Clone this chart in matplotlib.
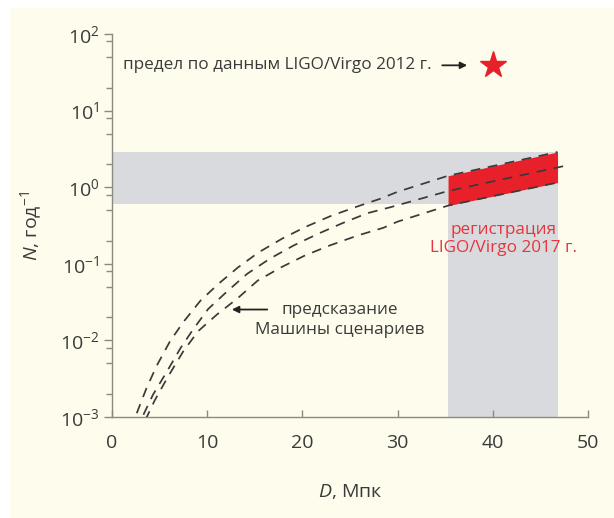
import matplotlib
matplotlib.use("Agg")
import matplotlib.pyplot as plt
from matplotlib.patches import Rectangle
from matplotlib.ticker import FixedLocator, NullFormatter

plt.rcParams['font.family'] = ['Open Sans', 'DejaVu Sans']
plt.rcParams['mathtext.fontset'] = 'custom'
plt.rcParams['mathtext.rm'] = 'Open Sans'
plt.rcParams['mathtext.it'] = 'Open Sans:italic'
plt.rcParams['lines.scale_dashes'] = False

# ---- data ----
D_upper = [2.6, 3.6, 4.7, 6.1, 7.5, 9.3, 11.2, 13.2, 15.4, 17.9, 20.3, 22.9, 25.8, 28.2, 30.0, 35.3, 46.8]
N_upper = [0.00112, 0.00234, 0.00468, 0.00977, 0.0174, 0.0331, 0.055, 0.089, 0.141, 0.214,
           0.302, 0.417, 0.562, 0.708, 0.871, 1.41, 2.88]

D_middle = [3.3, 4.3, 5.75, 7.2, 8.5, 10.1, 12.1, 14.2, 16.6, 19.1, 21.6, 24.2, 26.8, 29.3, 35.3, 48.0]
N_middle = [0.00107, 0.00195, 0.00389, 0.00794, 0.0138, 0.0257, 0.0437, 0.0741, 0.117, 0.174,
            0.245, 0.339, 0.457, 0.550, 0.891, 1.95]

D_lower = [3.5, 4.5, 5.9, 7.5, 9.05, 11.05, 13.2, 15.3, 17.7, 20.3, 22.9, 25.8, 28.5, 30.0, 35.3, 46.8]
N_lower = [0.000912, 0.00166, 0.00339, 0.00724, 0.0132, 0.0219, 0.0355, 0.0603, 0.0891, 0.129,
           0.174, 0.234, 0.295, 0.355, 0.575, 1.15]

red_D = [35.3, 46.8]
red_low = [0.575, 1.15]
red_high = [1.41, 2.88]

band_D = [0, 46.8]
band_N = [0.6, 2.9]
column_D = [35.3, 46.8]
column_N = [1e-3, 2.9]

star_D = 40
star_N = 39

x_ticks = [0, 10, 20, 30, 40, 50]
y_ticks = [1e-3, 1e-2, 1e-1, 1e0, 1e1, 1e2]
y_ticklabels = [r'$\mathregular{10^{-3}}$', r'$\mathregular{10^{-2}}$', r'$\mathregular{10^{-1}}$',
                r'$\mathregular{10^{0}}$', r'$\mathregular{10^{1}}$', r'$\mathregular{10^{2}}$']

cream = '#fefcec'
gray = '#d8dadd'
red = '#e8202a'
axis_col = '#8c8a80'
text_col = '#3a3a3a'
line_col = '#3a3a3a'

fig = plt.figure(figsize=(6.14, 5.18), dpi=100)
fig.patch.set_facecolor('white')
fig.patches.append(Rectangle((10/614, 0), 1, 1 - 8/518, transform=fig.transFigure,
                             facecolor=cream, edgecolor='none', zorder=-10))

ax = fig.add_axes([112/614, 1 - 417/518, (588 - 112)/614, (417 - 34)/518])
ax.set_facecolor('none')
ax.set_yscale('log')
ax.set_xlim(0, 50)
ax.set_ylim(1e-3, 1e2)

# gray regions
ax.fill_between(band_D, band_N[0], band_N[1], color=gray, lw=0, zorder=1)
ax.fill_between(column_D, column_N[0], column_N[1], color=gray, lw=0, zorder=1)
# red detection region
ax.fill_between(red_D, red_low, red_high, color=red, lw=0, zorder=2)

for D, N in [(D_upper, N_upper), (D_middle, N_middle), (D_lower, N_lower)]:
    ax.plot(D, N, color=line_col, lw=1.25, dashes=(7, 5.5), zorder=3, clip_on=True)

ax.plot([star_D], [star_N], marker='*', color=red, markersize=20, mec=red, zorder=4, clip_on=False)

# spines / ticks
for s in ['top', 'right']:
    ax.spines[s].set_visible(False)
for s in ['left', 'bottom']:
    ax.spines[s].set_color(axis_col)
    ax.spines[s].set_linewidth(1.0)

ax.set_xticks(x_ticks)
ax.set_xticklabels([str(v) for v in x_ticks])
ax.yaxis.set_major_locator(FixedLocator(y_ticks))
ax.set_yticklabels(y_ticklabels)
minor = [m * 10.0**e for e in range(-3, 2) for m in (2, 5, 8)]
ax.yaxis.set_minor_locator(FixedLocator(minor))
ax.yaxis.set_minor_formatter(NullFormatter())
ax.tick_params(axis='x', direction='in', length=5, width=1.0, color=axis_col,
               labelsize=14, labelcolor=text_col, pad=12)
ax.tick_params(axis='y', which='major', direction='out', length=6, width=1.0, color=axis_col,
               labelsize=14, labelcolor=text_col, pad=3)
ax.tick_params(axis='y', which='minor', direction='out', length=4, width=1.0, color=axis_col)

ax.set_xlabel(r'$\mathit{D}$, Мпк', fontsize=14, color=text_col, labelpad=22)
ax.set_ylabel(r'$\mathit{N}$, год$^{-1}$', fontsize=14, color=text_col, labelpad=12)

# annotations
ax.text(0.024, 39, 'предел по данным LIGO/Virgo 2012 г.', transform=ax.get_yaxis_transform(),
        ha='left', va='center', fontsize=12.3, color=text_col)
ax.annotate('', xy=(37.6, 39), xytext=(34.4, 39),
            arrowprops=dict(arrowstyle='-|>', color='#222222', lw=1.3, mutation_scale=10))

ax.text(23.9, 0.0185, 'предсказание\nМашины сценариев', ha='center', va='center', fontsize=12.3,
        color=text_col, linespacing=1.3)
ax.annotate('', xy=(12.3, 0.0253), xytext=(16.6, 0.0253),
            arrowprops=dict(arrowstyle='-|>', color='#222222', lw=1.3, mutation_scale=10))

ax.text(41.1, 0.21, 'регистрация\nLIGO/Virgo 2017 г.', ha='center', va='center', fontsize=12.3,
        color='#e8343c', linespacing=1.2)

fig.savefig('out.png', dpi=100, facecolor=fig.get_facecolor())
